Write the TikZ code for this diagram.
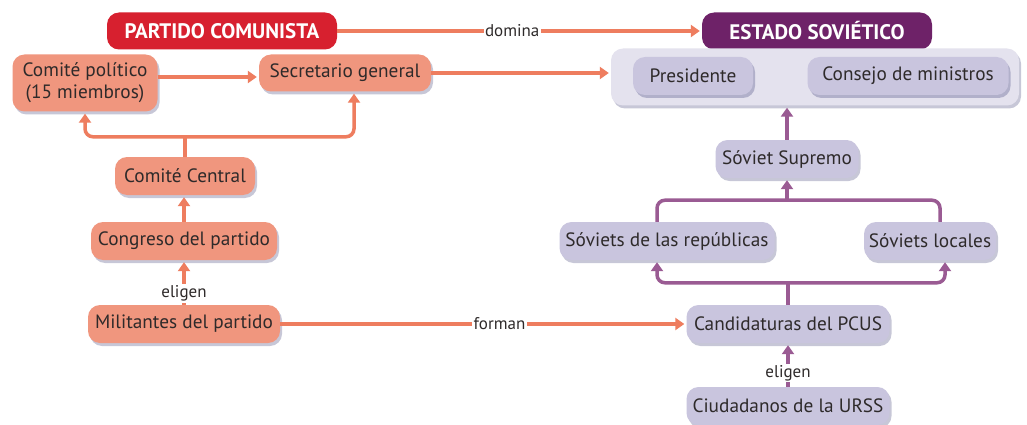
\documentclass[tikz,border=0pt]{standalone}
\usepackage{fontspec}
\setmainfont{PT Sans}
\usetikzlibrary{arrows.meta,shadows}
\definecolor{redT}{HTML}{D7202F}
\definecolor{purT}{HTML}{6E2268}
\definecolor{salm}{HTML}{F0967E}
\definecolor{oline}{HTML}{EE7D5F}
\definecolor{lav}{HTML}{C9C5DE}
\definecolor{panelc}{HTML}{E4E2EE}
\definecolor{pline}{HTML}{9A5B93}
\definecolor{txt}{HTML}{2E2A2A}
\tikzset{
  shad/.style={drop shadow={shadow xshift=2pt, shadow yshift=-3pt, fill=black!70!blue, opacity=0.22}},
  box/.style={rounded corners=12pt, minimum height=38pt, inner sep=2pt, align=center,
    font=\fontsize{19.3}{22}\selectfont, text=txt, shad},
  rbox/.style={box, fill=salm},
  pbox/.style={box, fill=lav},
  title/.style={rounded corners=12pt, minimum height=37pt, text=white, inner sep=2pt,
    font=\bfseries\fontsize{21}{23}\selectfont},
  tipA/.tip={Triangle[length=9pt,width=12pt]},
  oarr/.style={draw=oline, line width=3.5pt, -tipA, shorten >=2pt},
  obarr/.style={draw=oline, line width=3.5pt, tipA-tipA, shorten >=2pt, shorten <=2pt, rounded corners=8pt},
  oln/.style={draw=oline, line width=3.5pt},
  parr/.style={draw=pline, line width=3.5pt, -tipA, shorten >=2pt},
  pbarr/.style={draw=pline, line width=3.5pt, tipA-tipA, shorten >=2pt, shorten <=2pt, rounded corners=8pt},
  pln/.style={draw=pline, line width=3.5pt, rounded corners=8pt},
  lbl/.style={fill=white, inner sep=1.5pt, font=\fontsize{17}{19}\selectfont, text=txt},
}
\begin{document}
\begin{tikzpicture}[x=1pt,y=-1pt]
\path[fill=white,use as bounding box] (0,0) rectangle (1027,425);
% titles
\node[title, fill=redT, minimum width=230pt] (pc) at (222,31) {PARTIDO COMUNISTA};
\node[title, fill=purT, minimum width=230pt] (es) at (817,31) {ESTADO SOVIÉTICO};
% party side
\node[rbox, minimum width=145pt, minimum height=57pt] (cp) at (85,83) {Comité político\\(15 miembros)};
\node[rbox, minimum width=172pt, minimum height=37pt] (sg) at (345,73) {Secretario general};
\node[rbox, minimum width=140pt] (cc) at (185,176) {Comité Central};
\node[rbox, minimum width=186pt] (cong) at (184,241) {Congreso del partido};
\node[rbox, minimum width=192pt] (mil) at (184,324) {Militantes del partido};
% state side
\node[fill=panelc, rounded corners=12pt, shad, minimum width=408pt, minimum height=57pt] (panel) at (815,77) {};
\node[pbox, minimum width=120pt] (pres) at (693,76) {Presidente};
\node[pbox, minimum width=201pt] (cons) at (908,76) {Consejo de ministros};
\node[pbox, minimum width=143pt] (sup) at (787,159) {Sóviet Supremo};
\node[pbox, minimum width=215pt] (rep) at (667,241) {Sóviets de las repúblicas};
\node[pbox, minimum width=132pt] (loc) at (930,241) {Sóviets locales};
\node[pbox, minimum width=203pt] (cand) at (788,324) {Candidaturas del PCUS};
\node[pbox, minimum width=203pt] (ciud) at (788,406) {Ciudadanos de la URSS};
% connectors party
\draw[oarr] (pc) -- node[lbl, pos=0.48] {domina} (es);
\draw[oarr] ([yshift=6pt]cp.east) -- ([yshift=6pt]cp.east -| sg.west);
\draw[oarr] (sg.east) -- (sg.east -| panel.west);
\coordinate (jr) at ([yshift=20pt]cc.north);
\draw[oln] (cc.north) -- (jr);
\draw[obarr] (cp.south) |- (jr) -| ([xshift=9pt]sg.south);
\draw[oarr] (cong.north) -- (cong.north |- cc.south);
\draw[oarr] (mil.north) -- node[lbl, pos=0.25] {eligen} (mil.north |- cong.south);
\draw[oarr] (mil.east) -- node[lbl, pos=0.54] {forman} (cand.west);
% connectors state
\draw[parr] (ciud.north) -- node[lbl, pos=0.32] {eligen} (cand.south);
\coordinate (jb) at ([yshift=22pt]cand.north);
\draw[pln] (cand.north) -- (jb);
\draw[pbarr] ([xshift=-10pt]rep.south) |- (jb) -| ([xshift=15pt]loc.south);
\coordinate (jt) at ([yshift=-22pt]sup.south);
\draw[pln] ([xshift=-10pt]rep.north) |- (jt) -| ([xshift=10pt]loc.north);
\draw[parr] (jt) -- (sup.south);
\draw[parr] (sup.north) -- (sup.north |- panel.south);
\end{tikzpicture}
\end{document}
